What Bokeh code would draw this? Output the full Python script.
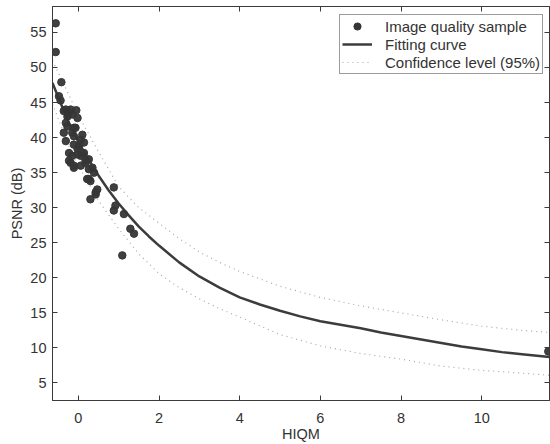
from bokeh.plotting import figure
from bokeh.models import LinearAxis, Legend, LegendItem, FixedTicker, Range1d
from bokeh.embed import file_html
from bokeh.resources import INLINE

# ---- data ----
sample_hiqm = [-0.56, -0.56, -0.42, -0.48, -0.44, -0.36, -0.31, -0.19, -0.05, -0.27,
               -0.15, -0.23, -0.31, -0.02, -0.27, -0.11, -0.07, -0.36, -0.15, 0.10,
               -0.11, -0.31, 0.06, 0.01, 0.14, -0.11, -0.02, -0.23, -0.15, -0.02,
               0.06, 0.14, -0.23, -0.19, 0.18, -0.11, 0.06, 0.18, 0.26, -0.11,
               0.26, 0.35, 0.39, 0.26, 0.30, 0.22, 0.47, 0.43, 0.43, 0.30,
               0.88, 0.92, 0.88, 1.13, 1.29, 1.38, 1.09, 11.65]
sample_psnr = [56.3, 52.2, 47.9, 45.9, 45.3, 43.8, 44.0, 44.0, 43.9, 43.0,
               43.3, 43.5, 42.1, 42.8, 41.6, 41.4, 41.4, 40.7, 40.7, 40.4,
               40.2, 39.5, 39.7, 38.8, 39.3, 39.0, 38.4, 37.8, 37.4, 37.6,
               37.4, 37.8, 36.7, 36.4, 36.7, 36.0, 36.0, 36.4, 36.9, 35.7,
               35.5, 35.7, 35.0, 34.1, 33.8, 34.1, 32.6, 32.2, 31.9, 31.2,
               32.9, 30.3, 29.6, 29.1, 27.0, 26.3, 23.2, 9.5]

fit_hiqm = [-0.64, -0.5, -0.25, 0, 0.25, 0.5, 0.75, 1, 1.25, 1.5, 1.75, 2, 2.5, 3,
            3.5, 4, 4.5, 5, 5.5, 6, 6.5, 7, 7.5, 8, 8.5, 9, 9.5, 10, 10.5, 11, 11.68]
fit_psnr = [47.8, 45.8, 42.3, 39.4, 36.9, 34.6, 32.5, 30.6, 28.9, 27.3, 25.9, 24.6,
            22.2, 20.2, 18.6, 17.2, 16.2, 15.3, 14.5, 13.8, 13.3, 12.8, 12.2, 11.7,
            11.2, 10.7, 10.2, 9.8, 9.4, 9.1, 8.7]

band_hiqm = [-0.64, -0.25, 0, 0.5, 1, 1.5, 2, 2.5, 3, 3.5, 4, 5, 6, 7, 8, 9, 10,
             11, 11.68]
band_upper = [51.0, 46.3, 43.2, 38.0, 33.0, 30.0, 27.8, 25.6, 23.7, 22.2, 20.9,
              18.8, 17.2, 16.0, 15.0, 14.0, 13.1, 12.5, 12.2]
band_lower = [44.8, 39.0, 36.0, 31.0, 27.0, 23.4, 20.6, 18.6, 17.0, 15.6, 14.4,
              11.9, 10.3, 9.2, 8.4, 7.4, 6.8, 6.4, 6.1]

x_ticks = [0, 2, 4, 6, 8, 10]
y_ticks = [5, 10, 15, 20, 25, 30, 35, 40, 45, 50, 55]

FONT = "Liberation Sans"
INK = "#333333"
AX = "#3a3a3a"

p = figure(width=550, height=444, output_backend="svg", toolbar_location=None,
           x_range=Range1d(-0.64, 11.68), y_range=Range1d(2.5, 58.7),
           min_border_left=52, min_border_right=1, min_border_top=6,
           min_border_bottom=41, x_axis_label="HIQM", y_axis_label="PSNR (dB)")
p.grid.visible = False
p.outline_line_color = AX
p.background_fill_color = "white"
p.border_fill_color = "white"

p.xaxis.ticker = FixedTicker(ticks=x_ticks)
p.yaxis.ticker = FixedTicker(ticks=y_ticks)
for ax in (p.xaxis[0], p.yaxis[0]):
    ax.major_tick_in = 5
    ax.major_tick_out = 0
    ax.minor_tick_in = 0
    ax.minor_tick_out = 0
    ax.axis_line_color = AX
    ax.major_tick_line_color = AX
    ax.major_label_text_font = FONT
    ax.major_label_text_font_size = "14.5px"
    ax.major_label_text_color = INK
    ax.axis_label_text_font = FONT
    ax.axis_label_text_font_size = "14.5px"
    ax.axis_label_text_font_style = "normal"
    ax.axis_label_text_color = INK
p.xaxis.major_label_standoff = 12
p.xaxis.axis_label_standoff = 0
p.yaxis.major_label_standoff = 6
p.yaxis.axis_label_standoff = 2

top = LinearAxis(ticker=FixedTicker(ticks=x_ticks),
                 major_label_overrides={t: "" for t in x_ticks},
                 major_tick_in=5, major_tick_out=0, minor_tick_in=0, minor_tick_out=0,
                 major_label_standoff=0, axis_line_color=AX, major_tick_line_color=AX)
right = LinearAxis(ticker=FixedTicker(ticks=y_ticks),
                   major_label_overrides={t: "" for t in y_ticks},
                   major_tick_in=5, major_tick_out=0, minor_tick_in=0, minor_tick_out=0,
                   major_label_standoff=0, axis_line_color=AX, major_tick_line_color=AX)
p.add_layout(top, "above")
p.add_layout(right, "right")

up = p.line(band_hiqm, band_upper, line_color="#a8a8a8", line_width=1.2, line_dash="1 4")
lo = p.line(band_hiqm, band_lower, line_color="#a8a8a8", line_width=1.2, line_dash="1 4")
fit = p.line(fit_hiqm, fit_psnr, line_color="#3c3c3c", line_width=2.5)
pts = p.scatter(sample_hiqm, sample_psnr, size=7.5, fill_color="#363636",
                line_color="#363636", fill_alpha=0.95)
# small dot used only as the legend's marker (no visible data)
leg_pts = p.scatter([float("nan")], [float("nan")], size=3.5,
                    fill_color="#363636", line_color="#363636")

legend = Legend(items=[LegendItem(label="Image quality sample", renderers=[leg_pts]),
                       LegendItem(label="Fitting curve", renderers=[fit]),
                       LegendItem(label="Confidence level (95%)", renderers=[up])],
                location=(287, 326), padding=2, spacing=0, margin=0,
                label_height=18, glyph_height=18, glyph_width=30, label_standoff=13,
                label_text_font=FONT, label_text_font_size="15px", label_text_color=INK,
                border_line_color=AX, border_line_width=1, background_fill_color="white",
                background_fill_alpha=1.0)
p.add_layout(legend)

open("out.html", "w").write(file_html(p, INLINE))
